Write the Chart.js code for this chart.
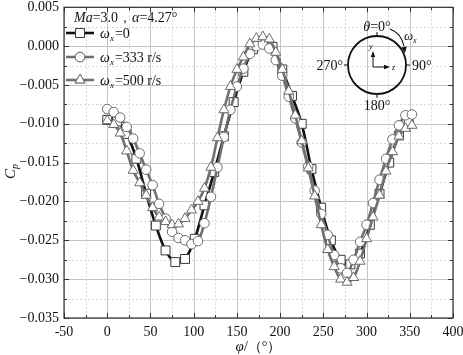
<!DOCTYPE html>
<html><head><meta charset="utf-8">
<script src="https://cdn.jsdelivr.net/npm/chart.js@4/dist/chart.umd.min.js"></script>
<style>html,body{margin:0;padding:0;background:#fff}#wrap{width:463px;height:355px}</style>
</head><body><div id="wrap"><canvas id="c" width="463" height="355"></canvas></div>
<script>
// ---- data ----
const phiOmega0 = [0,11.25,22.5,33.75,45,56.25,67.5,78.75,90,101.25,112.5,123.75,135,146.25,157.5,168.75,180,191.25,202.5,213.75,225,236.25,247.5,258.75,270,281.25,292.5,303.75,315,326.25,337.5,348.75];
const cpOmega0 = [-0.0095,-0.0097,-0.0113,-0.0145,-0.0190,-0.0231,-0.0263,-0.0278,-0.0274,-0.0248,-0.0205,-0.0162,-0.0116,-0.0072,-0.0033,-0.0004,0.0006,-0.0001,-0.0030,-0.0064,-0.0100,-0.0158,-0.0208,-0.0250,-0.0275,-0.0281,-0.0267,-0.0230,-0.0190,-0.0150,-0.0115,-0.0097];
const phiOmegaN = [0,7.5,15,22.5,30,37.5,45,52.5,60,67.5,75,82.5,90,97.5,105,112.5,120,127.5,135,142.5,150,157.5,165,172.5,180,187.5,195,202.5,210,217.5,225,232.5,240,247.5,255,262.5,270,277.5,285,292.5,300,307.5,315,322.5,330,337.5,345,352.5];
const cpOmega333 = [-0.0081,-0.0085,-0.0092,-0.0104,-0.0119,-0.0138,-0.0159,-0.0179,-0.0203,-0.0222,-0.0239,-0.0247,-0.0250,-0.0255,-0.0251,-0.0228,-0.0194,-0.0156,-0.0117,-0.0082,-0.0052,-0.0029,-0.0010,0.0000,0.0002,-0.0003,-0.0018,-0.0038,-0.0065,-0.0093,-0.0124,-0.0155,-0.0186,-0.0216,-0.0243,-0.0269,-0.0286,-0.0292,-0.0275,-0.0252,-0.0230,-0.0202,-0.0172,-0.0145,-0.0120,-0.0102,-0.0089,-0.0088];
const cpOmega500 = [-0.0096,-0.0101,-0.0112,-0.0135,-0.0160,-0.0176,-0.0192,-0.0208,-0.0220,-0.0226,-0.0230,-0.0229,-0.0222,-0.0211,-0.0200,-0.0183,-0.0156,-0.0118,-0.0082,-0.0052,-0.0030,-0.0014,0.0003,0.0010,0.0012,0.0009,-0.0008,-0.0030,-0.0058,-0.0089,-0.0122,-0.0157,-0.0193,-0.0230,-0.0262,-0.0284,-0.0300,-0.0304,-0.0298,-0.0277,-0.0248,-0.0220,-0.0192,-0.0161,-0.0136,-0.0116,-0.0106,-0.0102];
const seriesNames = ["=0","=333 r/s","=500 r/s"];
const xTicks = [-50,0,50,100,150,200,250,300,350,400];
const yTicks = [0.005,0.000,-0.005,-0.010,-0.015,-0.020,-0.025,-0.030,-0.035];

const SERIF = '"Liberation Serif","DejaVu Serif",serif';
const pts = (xs, ys) => xs.map((x,i)=>({x, y: ys[i]}));

const styles = [
  {line:'#111111', mk:'#3a3a3a', shape:'rect', r:6.3},
  {line:'#707070', mk:'#6a6a6a', shape:'circle', r:4.8},
  {line:'#707070', mk:'#6a6a6a', shape:'triangle', r:5.8}
];

function drawMarker(ctx, shape, x, y, r, col){
  ctx.save();
  ctx.fillStyle='#fff'; ctx.strokeStyle=col; ctx.lineWidth=1;
  Chart.helpers.drawPoint(ctx, {pointStyle:shape, radius:r, borderWidth:1}, x, y);
  ctx.fill(); ctx.stroke();
  ctx.restore();
}

const gridPlugin = {
  id:'gridPlugin',
  beforeDatasetsDraw(chart){
    const {ctx, chartArea:a, scales:{x,y}} = chart;
    ctx.save();
    ctx.strokeStyle='#d9d9d9'; ctx.lineWidth=1; ctx.setLineDash([2,2]);
    for(let v=-25; v<400; v+=50){const p=Math.round(x.getPixelForValue(v))+0.5; ctx.beginPath(); ctx.moveTo(p,a.top); ctx.lineTo(p,a.bottom); ctx.stroke();}
    for(let k=0;k<8;k++){const v=0.0025-k*0.005; const p=Math.round(y.getPixelForValue(v))+0.5; ctx.beginPath(); ctx.moveTo(a.left,p); ctx.lineTo(a.right,p); ctx.stroke();}
    ctx.setLineDash([]);
    ctx.strokeStyle='#c4c4c4';
    xTicks.forEach(v=>{const p=Math.round(x.getPixelForValue(v))+0.5; ctx.beginPath(); ctx.moveTo(p,a.top); ctx.lineTo(p,a.bottom); ctx.stroke();});
    yTicks.forEach(v=>{const p=Math.round(y.getPixelForValue(v))+0.5; ctx.beginPath(); ctx.moveTo(a.left,p); ctx.lineTo(a.right,p); ctx.stroke();});
    ctx.restore();
  },
  afterDraw(chart){
    const {ctx, chartArea:a, scales:{x,y}} = chart;
    ctx.save();
    ctx.strokeStyle='#333'; ctx.lineWidth=1.2;
    ctx.strokeRect(a.left, a.top, a.right-a.left, a.bottom-a.top);
    ctx.lineWidth=1;
    const tickX=(v,len)=>{const p=Math.round(x.getPixelForValue(v))+0.5; ctx.beginPath(); ctx.moveTo(p,a.bottom); ctx.lineTo(p,a.bottom-len); ctx.moveTo(p,a.top); ctx.lineTo(p,a.top+len); ctx.stroke();};
    const tickY=(v,len)=>{const p=Math.round(y.getPixelForValue(v))+0.5; ctx.beginPath(); ctx.moveTo(a.left,p); ctx.lineTo(a.left+len,p); ctx.moveTo(a.right,p); ctx.lineTo(a.right-len,p); ctx.stroke();};
    xTicks.forEach(v=>tickX(v,5));
    for(let v=-25; v<400; v+=50) tickX(v,3);
    yTicks.forEach(v=>tickY(v,5));
    for(let k=0;k<8;k++) tickY(0.0025-k*0.005,3);

    // axis titles
    ctx.fillStyle='#111';
    ctx.textBaseline='alphabetic';
    const xt = (a.left+a.right)/2;
    ctx.font='italic 15px '+SERIF;
    const w1 = ctx.measureText('φ').width;
    ctx.font='14px '+SERIF;
    const rest='/（°）';
    const w2 = ctx.measureText(rest).width;
    let sx = xt-(w1+w2)/2;
    ctx.font='italic 15px '+SERIF; ctx.textAlign='left'; ctx.fillText('φ', sx, 351);
    ctx.font='14px '+SERIF; ctx.fillText(rest, sx+w1, 351);
    ctx.save();
    ctx.translate(15, 172); ctx.rotate(-Math.PI/2);
    ctx.font='italic 15px '+SERIF; ctx.textAlign='left';
    ctx.fillText('C', -7, 0);
    ctx.font='italic 10px '+SERIF; ctx.fillText('p', 3, 3);
    ctx.restore();

    // legend
    ctx.textAlign='left';
    let tx=74, ty=22;
    const seg=(txt,font)=>{ctx.font=font; ctx.fillText(txt,tx,ty); tx+=ctx.measureText(txt).width;};
    seg('Ma','italic 14px '+SERIF); seg('=3.0，','14px '+SERIF); seg('α','italic 14px '+SERIF); seg('=4.27°','14px '+SERIF);
    const rows=[33,57,80];
    rows.forEach((ry,i)=>{
      const s=styles[i];
      ctx.strokeStyle=s.line; ctx.lineWidth=2.6;
      ctx.beginPath(); ctx.moveTo(66,ry); ctx.lineTo(94,ry); ctx.stroke();
      drawMarker(ctx, s.shape, 80, ry, s.r, s.mk);
      ctx.fillStyle='#111';
      tx=100; ty=ry+5;
      seg('ω','italic 14px '+SERIF);
      ctx.font='italic 9px '+SERIF; ctx.fillText('x', tx, ty+3); tx+=ctx.measureText('x').width+1;
      seg(seriesNames[i],'14px '+SERIF);
    });

    // inset diagram
    const cx=377, cy=65, R=29;
    ctx.strokeStyle='#111'; ctx.lineWidth=1.8;
    ctx.beginPath(); ctx.arc(cx,cy,R,0,Math.PI*2); ctx.stroke();
    ctx.lineWidth=1;
    ctx.beginPath();
    ctx.moveTo(cx,cy-R); ctx.lineTo(cx,cy-R-4);
    ctx.moveTo(cx,cy+R); ctx.lineTo(cx,cy+R+4);
    ctx.moveTo(cx+R,cy); ctx.lineTo(cx+R+4,cy);
    ctx.moveTo(cx-R,cy); ctx.lineTo(cx-R-4,cy);
    ctx.stroke();
    ctx.fillStyle='#111';
    ctx.font='italic 14px '+SERIF; ctx.textAlign='left';
    let th='θ'; let tw=ctx.measureText(th).width; ctx.font='14px '+SERIF; let tw2=ctx.measureText('=0°').width;
    ctx.font='italic 14px '+SERIF; ctx.fillText(th, cx-(tw+tw2)/2, 31);
    ctx.font='14px '+SERIF; ctx.fillText('=0°', cx-(tw+tw2)/2+tw, 31);
    ctx.fillText('90°', cx+R+6, cy+5);
    ctx.textAlign='right'; ctx.fillText('270°', cx-R-5, cy+5);
    ctx.textAlign='center'; ctx.fillText('180°', cx, cy+R+16);
    // rotation arrow
    ctx.lineWidth=1.1;
    ctx.beginPath(); ctx.moveTo(390,29); ctx.quadraticCurveTo(401,33,404,46); ctx.stroke();
    ctx.save(); ctx.translate(404.5,50); ctx.rotate(Math.atan2(4,0.6));
    ctx.beginPath(); ctx.moveTo(3,0); ctx.lineTo(-3,-2.8); ctx.lineTo(-3,2.8); ctx.closePath(); ctx.fill();
    ctx.restore();
    ctx.textAlign='left';
    ctx.font='italic 13px '+SERIF; ctx.fillText('ω', 404, 40);
    ctx.font='italic 8px '+SERIF; ctx.fillText('x', 413, 43);
    // inner axes
    const ox=373, oy=67;
    ctx.lineWidth=1;
    ctx.beginPath(); ctx.moveTo(ox,oy); ctx.lineTo(ox,oy-12); ctx.moveTo(ox,oy); ctx.lineTo(ox+13,oy); ctx.stroke();
    ctx.beginPath(); ctx.moveTo(ox,oy-16); ctx.lineTo(ox-2.2,oy-10); ctx.lineTo(ox+2.2,oy-10); ctx.closePath(); ctx.fill();
    ctx.beginPath(); ctx.moveTo(ox+17,oy); ctx.lineTo(ox+11,oy-2.2); ctx.lineTo(ox+11,oy+2.2); ctx.closePath(); ctx.fill();
    ctx.font='italic 8px '+SERIF;
    ctx.fillText('y', ox-4, oy-18);
    ctx.fillText('z', ox+19, oy+3);
    ctx.restore();
  }
};

const mkDs = (label, data, s, order) => ({
  label, data, order,
  borderColor:s.line, borderWidth:2.6, tension:0.35,
  pointStyle:s.shape, pointRadius:s.r, pointHoverRadius:s.r,
  pointBackgroundColor:'#ffffff', pointBorderColor:s.mk, pointBorderWidth:1,
  fill:false
});

new Chart(document.getElementById('c'), {
  type:'line',
  data:{datasets:[
    mkDs('ωx=0', pts(phiOmega0, cpOmega0), styles[0], 3),
    mkDs('ωx=333 r/s', pts(phiOmegaN, cpOmega333), styles[1], 2),
    mkDs('ωx=500 r/s', pts(phiOmegaN, cpOmega500), styles[2], 1)
  ]},
  options:{
    responsive:false, animation:false, devicePixelRatio:1,
    layout:{padding:{top:6,right:10,left:0,bottom:0}},
    plugins:{legend:{display:false}, tooltip:{enabled:false}},
    scales:{
      x:{type:'linear', min:-50, max:400,
        afterBuildTicks(s){ s.ticks = xTicks.map(v=>({value:v})); },
        afterFit(s){ s.height=37; s.paddingLeft=0; s.paddingRight=0; },
        grid:{display:false, drawTicks:false}, border:{display:false},
        ticks:{padding:6, color:'#111', font:{family:SERIF, size:14}, callback:v=>String(v), maxRotation:0, autoSkip:false}
      },
      y:{type:'linear', min:-0.035, max:0.005,
        afterBuildTicks(s){ s.ticks = yTicks.map(v=>({value:v})); },
        afterFit(s){ s.width=64; s.paddingTop=0; s.paddingBottom=0; },
        grid:{display:false, drawTicks:false}, border:{display:false},
        ticks:{padding:5, color:'#111', font:{family:SERIF, size:14}, autoSkip:false,
          callback:v=>{const t=Math.abs(v).toFixed(3); return (v< -1e-9? '\u2212':'')+t;}}
      }
    }
  },
  plugins:[gridPlugin]
});
</script>
</body></html>
